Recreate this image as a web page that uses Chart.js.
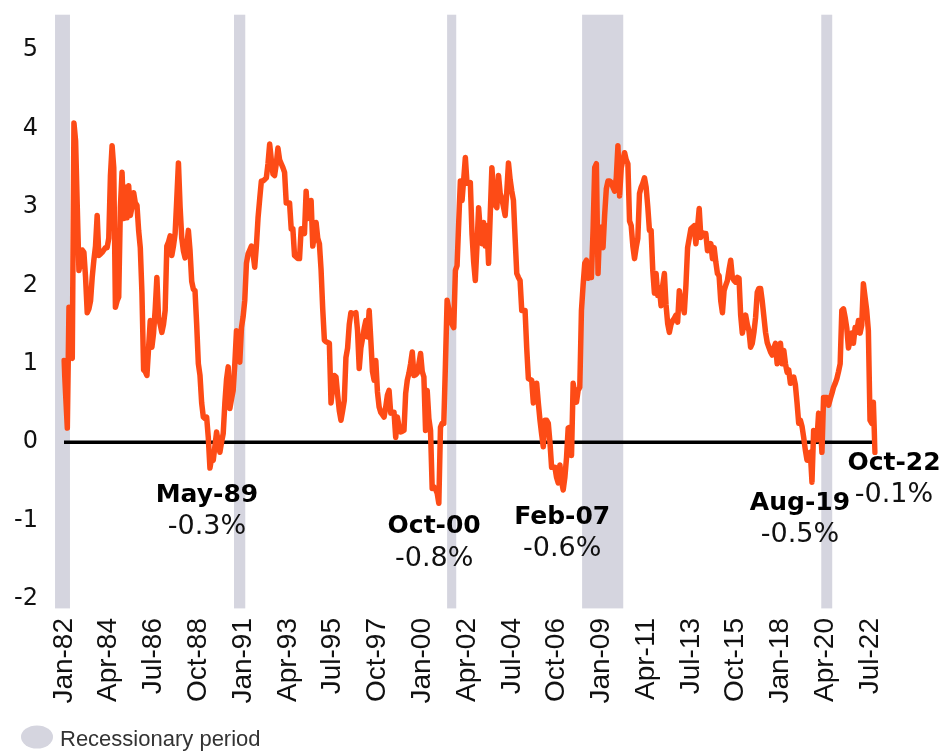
<!DOCTYPE html>
<html>
<head>
<meta charset="utf-8">
<script src="https://cdn.jsdelivr.net/npm/chart.js@4.4.0/dist/chart.umd.min.js"></script>
<style>
    html, body { margin: 0; padding: 0; background: #fff; }
    #wrap { width: 951px; height: 754px; position: relative; }
</style>
</head>
<body>
<div id="wrap"><canvas id="spreadChart"></canvas></div>
<script>
// --- Data (monthly yield curve spread, %) --- //
const monthNames = ['Jan', 'Feb', 'Mar', 'Apr', 'May', 'Jun', 'Jul', 'Aug', 'Sep', 'Oct', 'Nov', 'Dec'];
const firstYear = 1982;

const spread1980s = [
    1.04, 0.6, 0.18, 1.72, 1.1, 1.07, 4.07, 3.84, 3.0, 2.19, 2.3, 2.45,      // 1982
    2.42, 2.1, 1.65, 1.7, 1.8, 2.1, 2.32, 2.5, 2.89, 2.38, 2.4, 2.42,        // 1983
    2.45, 2.48, 2.48, 2.6, 3.4, 3.78, 3.5, 1.72, 1.8, 1.85, 3.0, 3.44,       // 1984
    2.85, 3.25, 2.86, 3.27, 2.89, 3.0, 3.18, 3.05, 3.02, 2.7, 2.48, 1.9,     // 1985
    0.92, 0.9, 0.85, 1.2, 1.55, 1.21, 1.39, 1.7, 2.1, 1.59, 1.5, 1.4,        // 1986
    1.5, 1.68, 2.5, 2.55, 2.63, 2.38, 2.5, 2.66, 3.1, 3.56, 3.0, 2.6,        // 1987
    2.44, 2.35, 2.5, 2.7, 2.44, 2.05, 1.95, 1.93, 1.5, 1.0, 0.85, 0.5,       // 1988
    0.32, 0.3, 0.32, 0.06, -0.33, -0.2, -0.23, -0.05, 0.13, 0.0, -0.13, 0.0 // 1989
];
const spread1990s = [
    0.11, 0.5, 0.8, 0.96, 0.43, 0.55, 0.66, 1.0, 1.42, 1.1, 1.02, 1.46,      // 1990
    1.6, 1.81, 2.28, 2.4, 2.45, 2.5, 2.4, 2.23, 2.5, 2.86, 3.1, 3.33,        // 1991
    3.33, 3.35, 3.37, 3.55, 3.8, 3.6, 3.42, 3.4, 3.55, 3.75, 3.6, 3.55,      // 1992
    3.5, 3.44, 3.05, 3.05, 3.05, 2.72, 2.72, 2.38, 2.36, 2.34, 2.34, 2.72,   // 1993
    2.7, 2.66, 3.2, 2.85, 2.95, 3.08, 2.5, 2.65, 2.8, 2.6, 2.53, 2.2,        // 1994
    1.7, 1.3, 1.28, 1.27, 1.26, 0.5, 0.7, 0.85, 0.83, 0.6, 0.4, 0.28,        // 1995
    0.4, 0.53, 1.08, 1.2, 1.5, 1.65, 1.64, 1.64, 1.65, 1.42, 0.94, 1.2,      // 1996
    1.32, 1.45, 1.55, 1.34, 1.68, 1.3, 0.9, 0.79, 1.04, 0.64, 0.45, 0.38,    // 1997
    0.35, 0.32, 0.45, 0.6, 0.66, 0.37, 0.38, 0.38, 0.06, 0.32, 0.2, 0.13,    // 1998
    0.14, 0.15, 0.62, 0.79, 0.88, 1.0, 1.15, 0.85, 0.86, 0.88, 1.0, 1.13     // 1999
];
const spread2000s = [
    0.9, 0.83, 0.15, 0.66, 0.3, 0.15, -0.59, -0.57, -0.6, -0.65, -0.78, 0.19, // 2000
    0.24, 0.24, 1.0, 1.81, 1.7, 1.55, 1.5, 1.46, 2.19, 2.25, 2.8, 3.33,       // 2001
    3.08, 3.35, 3.63, 3.3, 3.3, 3.31, 2.66, 2.3, 2.06, 2.5, 2.99, 2.7,        // 2002
    2.53, 2.8, 2.5, 2.76, 2.28, 2.9, 3.5, 3.2, 3.02, 2.99, 3.4, 3.17,         // 2003
    3.1, 3.0, 2.89, 3.2, 3.56, 3.35, 3.2, 3.08, 2.6, 2.15, 2.1, 2.06,         // 2004
    1.68, 1.68, 1.68, 1.2, 0.81, 0.8, 0.79, 0.5, 0.6, 0.75, 0.5, 0.28,        // 2005
    0.1, -0.06, 0.28, 0.28, 0.24, 0.0, -0.32, -0.32, -0.32, -0.45, -0.52, -0.29, // 2006
    -0.5, -0.61, -0.45, -0.2, 0.18, 0.19, -0.17, 0.75, 0.6, 0.51, 0.66, 0.7,  // 2007
    1.68, 2.0, 2.28, 2.32, 2.09, 2.1, 2.1, 2.7, 3.5, 3.55, 2.15, 2.74,        // 2008
    2.74, 2.48, 2.9, 3.23, 3.33, 3.33, 3.31, 3.25, 3.2, 3.37, 3.78, 3.14      // 2009
];
const spread2010s = [
    3.5, 3.6, 3.69, 3.6, 3.55, 2.82, 2.76, 2.5, 2.34, 2.48, 2.6, 3.17,        // 2010
    3.25, 3.3, 3.37, 3.25, 3.0, 2.7, 2.7, 2.19, 1.9, 2.15, 1.87, 1.97,        // 2011
    1.74, 2.0, 2.15, 1.75, 1.51, 1.4, 1.5, 1.55, 1.58, 1.62, 1.53, 1.93,      // 2012
    1.8, 1.74, 1.65, 2.0, 2.48, 2.6, 2.72, 2.74, 2.76, 2.53, 2.74, 2.98,      // 2013
    2.61, 2.67, 2.66, 2.66, 2.44, 2.5, 2.53, 2.34, 2.48, 2.3, 2.15, 2.12,     // 2014
    1.8, 1.65, 1.93, 2.0, 2.06, 2.2, 2.32, 2.1, 2.06, 2.04, 2.1, 2.09,        // 2015
    1.62, 1.39, 1.5, 1.62, 1.5, 1.42, 1.21, 1.26, 1.4, 1.59, 1.91, 1.96,      // 2016
    1.96, 1.8, 1.6, 1.4, 1.27, 1.21, 1.15, 1.11, 1.2, 1.26, 1.0, 1.08,        // 2017
    1.26, 1.0, 1.17, 1.0, 0.89, 0.92, 0.75, 0.8, 0.83, 0.73, 0.5, 0.24,       // 2018
    0.28, 0.2, 0.06, -0.1, -0.23, -0.23, -0.13, -0.51, 0.15, 0.1, 0.03, 0.37  // 2019
];
const spread2020s = [
    0.25, -0.13, 0.57, 0.57, 0.57, 0.47, 0.55, 0.62, 0.7, 0.75, 0.81, 0.9,    // 2020
    1.0, 1.68, 1.7, 1.59, 1.45, 1.2, 1.3, 1.39, 1.26, 1.46, 1.4, 1.55,        // 2021
    1.39, 1.49, 2.02, 1.85, 1.68, 1.42, 0.28, 0.24, 0.51, -0.13               // 2022 (to Oct)
];

// Recessions, as month offsets from Jan-82 (start, end)
const recessionStart = [-5.4, 102.5, 231, 312.4, 456.6];
const recessionEnd = [3.6, 109.3, 236.5, 337.2, 463.2];

// Trough call-outs
const troughMonths = ['May-89', 'Oct-00', 'Feb-07', 'Aug-19', 'Oct-22'];
const troughTexts = ['-0.3%', '-0.8%', '-0.6%', '-0.5%', '-0.1%'];

const tickEvery = 27; // Jan-82, Apr-84, Jul-86 ...

const spread = [].concat(spread1980s, spread1990s, spread2000s, spread2010s, spread2020s);
const labels = spread.map((v, i) => {
    const year = firstYear + Math.floor(i / 12);
    return monthNames[i % 12] + '-' + String(year % 100).padStart(2, '0');
});
const zeroLine = spread.map(() => 0);

// --- Plugins --- //
const recessionShading = {
    id: 'recessionShading',
    beforeDatasetsDraw(chart) {
        const { ctx, scales: { x, y } } = chart;
        const top = y.getPixelForValue(5.45);
        const bottom = y.getPixelForValue(-2.12);
        ctx.save();
        ctx.fillStyle = '#d5d5df';
        recessionStart.forEach((s, i) => {
            const x1 = x.getPixelForValue(s);
            const x2 = x.getPixelForValue(recessionEnd[i]);
            ctx.fillRect(x1, top, x2 - x1, bottom - top);
        });
        ctx.restore();
    }
};

// label placement: shift in px from the trough point's x, and label centre in y units
const calloutPlace = [
    { dx: -3, y: -0.68 },
    { dx: -3, y: -1.08 },
    { dx: -1, y: -0.96 },
    { dx: -12, y: -0.78 },
    { dx: 19, y: -0.27 }
];

const troughLabels = {
    id: 'troughLabels',
    afterDatasetsDraw(chart) {
        const { ctx, scales: { x, y } } = chart;
        ctx.save();
        ctx.textAlign = 'center';
        ctx.textBaseline = 'middle';
        ctx.fillStyle = '#000';
        troughMonths.forEach((m, i) => {
            const px = x.getPixelForValue(labels.indexOf(m)) + calloutPlace[i].dx;
            const py = y.getPixelForValue(calloutPlace[i].y);
            ctx.font = 'bold 25px "DejaVu Sans"';
            ctx.fillText(m, px, py);
            ctx.fillStyle = '#111';
            ctx.font = '27px "DejaVu Sans"';
            ctx.fillText(troughTexts[i], px, py + 32);
            ctx.fillStyle = '#000';
        });
        ctx.restore();
    }
};

const recessionKey = {
    id: 'recessionKey',
    afterDraw(chart) {
        const ctx = chart.ctx;
        ctx.save();
        ctx.fillStyle = '#d5d5df';
        ctx.beginPath();
        ctx.ellipse(37, 737, 16, 11.5, 0, 0, Math.PI * 2);
        ctx.fill();
        ctx.fillStyle = '#333';
        ctx.font = '22px "Liberation Sans"';
        ctx.textBaseline = 'middle';
        ctx.textAlign = 'left';
        ctx.fillText('Recessionary period', 60, 740);
        ctx.restore();
    }
};

// --- Chart --- //
const ctx = document.getElementById('spreadChart').getContext('2d');
const spreadChart = new Chart(ctx, {
    type: 'line',
    data: {
        labels: labels,
        datasets: [{
            label: 'Yield curve spread',
            data: spread,
            borderColor: '#fd4b16',
            borderWidth: 5.5,
            borderJoinStyle: 'round',
            borderCapStyle: 'round',
            pointRadius: 0,
            tension: 0,
            order: 1
        }, {
            label: 'Zero',
            data: zeroLine,
            borderColor: '#000',
            borderWidth: 3.5,
            pointRadius: 0,
            order: 2
        }]
    },
    options: {
        responsive: true,
        maintainAspectRatio: false,
        animation: false,
        layout: { padding: { top: 50, right: 76, bottom: 45, left: 0 } },
        scales: {
            x: {
                grid: { display: false, drawTicks: false },
                border: { display: false },
                ticks: {
                    autoSkip: false,
                    minRotation: 90,
                    maxRotation: 90,
                    padding: 19,
                    color: '#111',
                    font: { family: 'Liberation Sans', size: 28 },
                    callback: (val, i) => (i % tickEvery === 0 ? labels[i] : '')
                },
                afterFit: (scale) => { scale.height = 110; }
            },
            y: {
                min: -2,
                max: 5,
                grid: { display: false, drawTicks: false },
                border: { display: false },
                ticks: {
                    stepSize: 1,
                    padding: 26,
                    color: '#111',
                    font: { family: 'DejaVu Sans', size: 24 }
                },
                afterFit: (scale) => { scale.width = 64; }
            }
        },
        plugins: {
            legend: { display: false },
            tooltip: { enabled: false }
        }
    },
    plugins: [recessionShading, troughLabels, recessionKey]
});
</script>
</body>
</html>
